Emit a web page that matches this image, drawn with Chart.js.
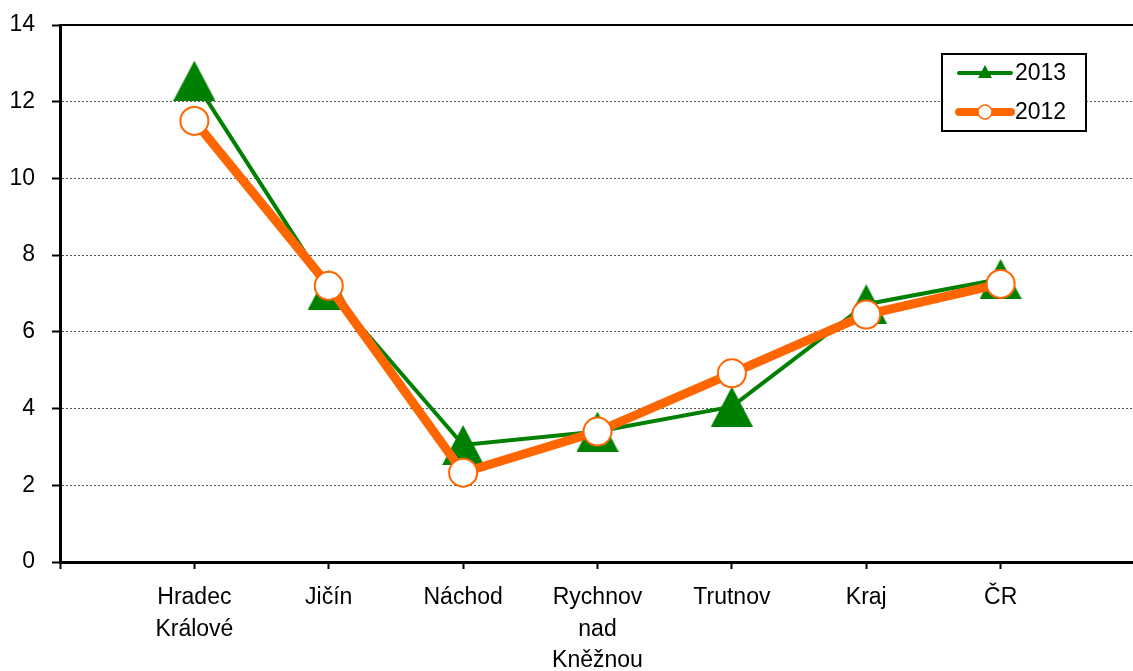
<!DOCTYPE html>
<html>
<head>
<meta charset="utf-8">
<script src="https://cdn.jsdelivr.net/npm/chart.js@4.4.1/dist/chart.umd.min.js"></script>
<style>
  html, body { margin: 0; padding: 0; background: #fff; overflow: hidden; }
  #wrap { position: relative; width: 1160px; height: 671px; }
</style>
</head>
<body>
<div id="wrap"><canvas id="graf"></canvas></div>
<script>
// okresy + kraj + ČR
const categories = [['Hradec', 'Králové'], 'Jičín', 'Náchod', ['Rychnov', 'nad', 'Kněžnou'], 'Trutnov', 'Kraj', 'ČR'];
const values2013 = [12.55, 7.1, 3.05, 3.4, 4.05, 6.72, 7.38];
const values2012 = [11.5, 7.2, 2.33, 3.4, 4.92, 6.45, 7.25];
const yTicks = [0, 2, 4, 6, 8, 10, 12, 14];

const GREEN = '#008000', ORANGE = '#FF6600';
const FONT = "'Liberation Sans', Arial, sans-serif";
const FS = 23;

// prázdná kategorie na začátku a na konci osy
const labels = [''].concat(categories, ['']);
const pad = (arr) => [null].concat(arr, [null]);

// trojúhelník jako v Excelu (střed = střed obrysu)
function triangleMarker(w, h, color) {
  const c = document.createElement('canvas');
  c.width = w; c.height = h;
  const g = c.getContext('2d');
  g.fillStyle = color;
  g.beginPath();
  g.moveTo(w / 2, 0);
  g.lineTo(w, h);
  g.lineTo(0, h);
  g.closePath();
  g.fill();
  return c;
}

// rámeček grafu nahoře + legenda v rámečku
const framePlugin = {
  id: 'frame',
  afterDraw(chart) {
    const { ctx, chartArea: a } = chart;
    ctx.save();
    ctx.strokeStyle = '#000';
    ctx.lineWidth = 2;
    ctx.beginPath();
    ctx.moveTo(a.left, a.top);
    ctx.lineTo(a.right, a.top);
    ctx.lineTo(a.right, a.bottom);
    ctx.stroke();

    // legenda
    const lx = a.left + 882, ly = a.top + 29, lw = 144, lh = 77;
    ctx.fillStyle = '#fff';
    ctx.fillRect(lx, ly, lw, lh);
    ctx.strokeRect(lx, ly, lw, lh);
    const rows = [
      { text: '2013', color: GREEN, width: 4, y: ly + 19, marker: 'tri' },
      { text: '2012', color: ORANGE, width: 8, y: ly + 58, marker: 'circ' },
    ];
    ctx.font = FS + 'px ' + FONT;
    ctx.textBaseline = 'middle';
    rows.forEach((r) => {
      ctx.strokeStyle = r.color;
      ctx.lineWidth = r.width;
      ctx.lineCap = 'round';
      ctx.beginPath();
      ctx.moveTo(lx + 17, r.y);
      ctx.lineTo(lx + 69, r.y);
      ctx.stroke();
      const cx = lx + 43;
      if (r.marker === 'tri') {
        ctx.fillStyle = r.color;
        ctx.beginPath();
        ctx.moveTo(cx, r.y - 8);
        ctx.lineTo(cx + 7, r.y + 5);
        ctx.lineTo(cx - 7, r.y + 5);
        ctx.closePath();
        ctx.fill();
      } else {
        ctx.fillStyle = '#fff';
        ctx.lineWidth = 1.5;
        ctx.beginPath();
        ctx.arc(cx, r.y, 7, 0, Math.PI * 2);
        ctx.fill();
        ctx.stroke();
      }
      ctx.fillStyle = '#000';
      ctx.textAlign = 'left';
      ctx.fillText(r.text, lx + 73, r.y + 1);
    });
    ctx.restore();
  },
};

new Chart(document.getElementById('graf'), {
  type: 'line',
  data: {
    labels,
    datasets: [
      {
        label: '2013', data: pad(values2013), order: 2,
        borderColor: GREEN, backgroundColor: GREEN, borderWidth: 4,
        pointStyle: triangleMarker(42, 40, GREEN), pointRadius: 21,
        tension: 0,
      },
      {
        label: '2012', data: pad(values2012), order: 1,
        borderColor: ORANGE, backgroundColor: '#fff', borderWidth: 9,
        pointStyle: 'circle', pointRadius: 14, pointBorderWidth: 2,
        pointBackgroundColor: '#fff', pointBorderColor: ORANGE,
        tension: 0,
      },
    ],
  },
  options: {
    responsive: true, maintainAspectRatio: false, animation: false,
    layout: { padding: { top: 24, right: 18, bottom: 0, left: 0 } },
    plugins: { legend: { display: false }, tooltip: { enabled: false } },
    scales: {
      x: {
        offset: false,
        afterFit: (s) => { s.height = 109; s.paddingLeft = 0; s.paddingRight = 0; },
        grid: { drawOnChartArea: false, drawTicks: true, tickLength: 7, tickColor: '#000', tickWidth: 2 },
        border: { color: '#000', width: 3 },
        ticks: {
          autoSkip: false, maxRotation: 0, padding: 13,
          color: '#000', font: { family: FONT, size: FS, lineHeight: 1.37 },
        },
      },
      y: {
        min: 0, max: 14,
        afterFit: (s) => { s.width = 60; s.paddingTop = 0; s.paddingBottom = 0; },
        afterBuildTicks: (scale) => { scale.ticks = yTicks.map((v) => ({ value: v })); },
        grid: {
          color: (c) => (c.tick && (c.tick.value === 0 || c.tick.value === 14)) ? 'rgba(0,0,0,0)' : '#555',
          lineWidth: 1, tickLength: 8, tickColor: '#000', tickWidth: 2, tickBorderDash: [],
        },
        border: { color: '#000', width: 3, dash: [2, 2] },
        ticks: { padding: 17, color: '#000', font: { family: FONT, size: FS } },
      },
    },
  },
  plugins: [framePlugin],
});
</script>
</body>
</html>
